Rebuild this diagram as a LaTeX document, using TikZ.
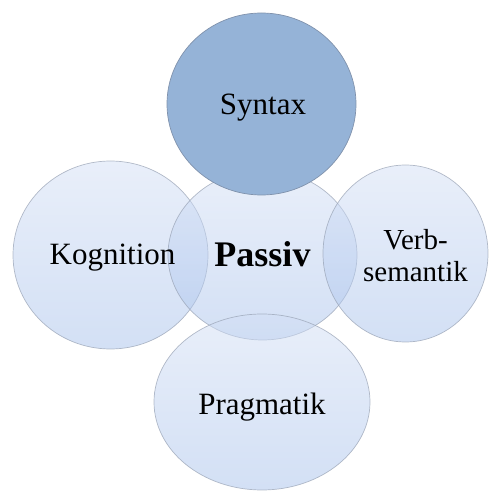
\documentclass[tikz,border=0pt]{standalone}
\usepackage{fontspec}
\setmainfont{Liberation Serif}
\usetikzlibrary{shapes.geometric}
\definecolor{venntop}{RGB}{211,223,245}
\definecolor{vennbot}{RGB}{167,193,235}
\definecolor{vennrim}{RGB}{150,160,178}
\definecolor{syntaxblue}{RGB}{149,179,215}
\definecolor{syntaxrim}{RGB}{128,146,172}
\begin{document}
\begin{tikzpicture}[x=1pt,y=1pt,
    bubble/.style={ellipse,inner sep=0pt,outer sep=0pt,line width=0.7pt,
      draw=vennrim,draw opacity=0.7,
      top color=venntop,bottom color=vennbot,fill opacity=0.5},
    lbl/.style={inner sep=0pt,font=\fontsize{31}{34}\selectfont}]
    \useasboundingbox (0,0) rectangle (490,491);

    % the four light circles
    \node[bubble,minimum width=195pt,minimum height=188pt] (kog) at (110.5,236) {};
    \node[bubble,minimum width=189pt,minimum height=170pt] (pas) at (262.5,236) {};
    \node[bubble,minimum width=165pt,minimum height=177pt] (verb) at (405.5,237.5) {};
    \node[bubble,minimum width=216pt,minimum height=176pt] (prag) at (262,89) {};

    % the dark one on top
    \node[ellipse,inner sep=0pt,outer sep=0pt,line width=0.7pt,
      fill=syntaxblue,draw=syntaxrim,
      minimum width=189pt,minimum height=182pt] (syn) at (261.5,387) {};

    \node[lbl,anchor=base] (syntxt) at ([xshift=1.5pt,yshift=-11pt]syn.center) {Syntax};
    \node[lbl,anchor=base] (kogtxt) at ([xshift=2pt,yshift=-10pt]kog.center) {Kognition};
    \node[lbl,anchor=base,font=\fontsize{36}{40}\selectfont\bfseries] (pastxt)
      at ([yshift=-12pt]pas.center) {Passiv};
    \node[lbl,align=center,font=\fontsize{29}{32}\selectfont] (verbtxt)
      at ([xshift=10pt,yshift=-2pt]verb.center) {Verb-\\semantik};
    \node[lbl,anchor=base] (pragtxt) at ([yshift=-13pt]prag.center) {Pragmatik};
\end{tikzpicture}
\end{document}
